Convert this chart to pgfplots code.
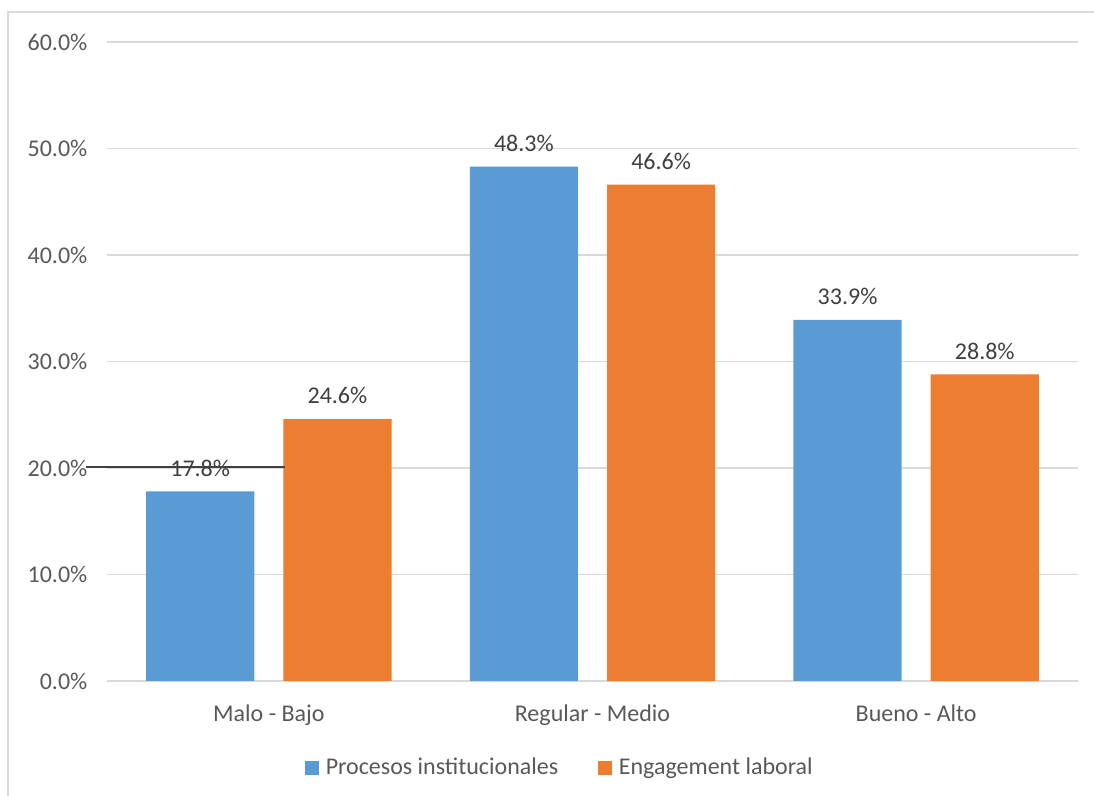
\documentclass[border=0pt]{standalone}
\usepackage{pgfplots}
\pgfplotsset{compat=1.18}
\usepackage{fontspec}
\setmainfont{Carlito}
\definecolor{cblue}{HTML}{5B9BD5}
\definecolor{corange}{HTML}{ED7D31}
\definecolor{gridc}{HTML}{D9D9D9}
\definecolor{txt}{HTML}{595959}
\definecolor{lbl}{HTML}{404040}
\begin{document}
\begin{tikzpicture}
\useasboundingbox (0,0) rectangle (547pt,398pt);
\fill[white] (0,0) rectangle (547pt,398pt);
\draw[gridc, line width=0.75pt] (4pt,0) -- (4pt,392pt) -- (547pt,392pt);
\begin{axis}[
  at={(53.5pt,57.5pt)}, anchor=south west,
  width=485.5pt, height=319.5pt, scale only axis,
  xmin=-0.5, xmax=2.5, ymin=0, ymax=60,
  xtick={0,1,2}, xticklabels={Malo - Bajo, Regular - Medio, Bueno - Alto},
  ytick={0,10,...,60},
  yticklabel={\pgfmathprintnumber[fixed,fixed zerofill,precision=1]{\tick}\%},
  /pgf/number format/assume math mode=true,
  axis line style={draw=none},
  major tick length=0pt,
  ymajorgrids, grid style={gridc, line width=0.75pt},
  tick label style={font=\fontsize{12}{14}\selectfont, text=txt},
  yticklabel style={xshift=-6.3pt},
  xticklabel style={yshift=-8.5pt},
  ybar, bar width=0.334,
  nodes near coords={\pgfmathprintnumber[fixed,fixed zerofill,precision=1]{\pgfplotspointmeta}\%},
  every node near coord/.append style={font=\fontsize{12}{14}\selectfont, text=lbl, yshift=4pt},
  legend style={at={(0.4675,-0.136)}, anchor=center, draw=none, fill=none,
    legend columns=2, font=\fontsize{12}{14}\selectfont, text=txt,
    /tikz/every even column/.append style={column sep=18pt},
    /tikz/every odd column/.append style={column sep=1.5pt}},
  legend image code/.code={\fill[#1] (0pt,-3.4pt) rectangle (6.8pt,3.4pt);},
  clip=false,
]
\addplot[fill=cblue, draw=none, bar shift=-0.212] coordinates {(0,17.8) (1,48.3) (2,33.9)};
\addplot[fill=corange, draw=none, bar shift=0.212] coordinates {(0,24.6) (1,46.6) (2,28.8)};
\legend{Procesos institucionales, Engagement laboral}
\end{axis}
\draw[lbl, line width=1pt] (43pt,164.25pt) -- (142.5pt,164.25pt);
\end{tikzpicture}
\end{document}
